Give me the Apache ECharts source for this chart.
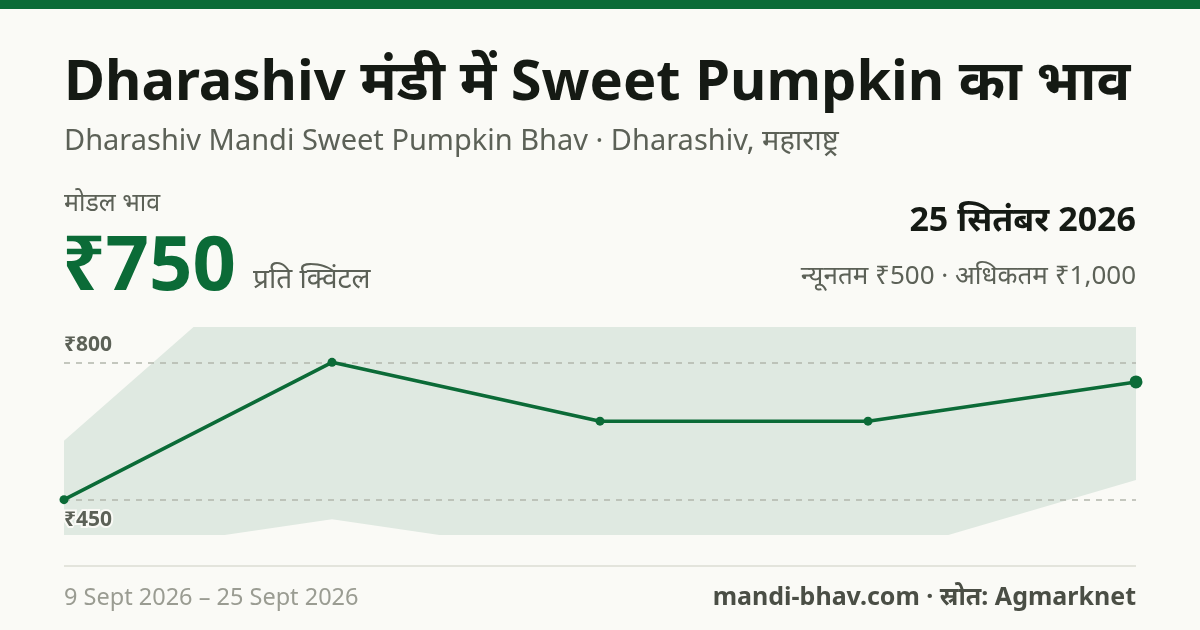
<!DOCTYPE html>
<html>
<head>
<meta charset="utf-8">
<script src="https://cdn.jsdelivr.net/npm/echarts@6/dist/echarts.min.js"></script>
<style>
  html, body { margin: 0; padding: 0; background: #fafaf6; }
  #chart { width: 1200px; height: 630px; }
</style>
</head>
<body>
<div id="chart"></div>
<script>
// data
const dates = ['9 Sept', '13 Sept', '17 Sept', '21 Sept', '25 Sept'];
const modalPrice = [450, 800, 650, 650, 750];
const minPrice = [300, 400, 300, 300, 500];
const maxPrice = [600, 1200, 1000, 1000, 1000];
const refLines = [800, 450];

const green = '#0b6b37';
const grey = '#5c6157';
const font = '"Noto Sans", "Noto Sans Devanagari", sans-serif';

const chart = echarts.init(document.getElementById('chart'));

// y range padded by a quarter of the modal range
const lo = Math.min(...modalPrice), hi = Math.max(...modalPrice);
const pad = (hi - lo) * 0.25;

const modalData = modalPrice.map((v, i) => ({
  value: v,
  symbolSize: i === modalPrice.length - 1 ? 13 : 9
}));

chart.setOption({
  backgroundColor: '#fafaf6',
  animation: false,
  grid: { left: 64, right: 64, top: 328, bottom: 96 },
  xAxis: {
    type: 'category', data: dates, boundaryGap: false, show: false
  },
  yAxis: {
    type: 'value', min: lo - pad, max: hi + pad, show: false, splitLine: { show: false }
  },
  series: [
    {
      name: 'min', type: 'line', stack: 'band', data: minPrice,
      symbol: 'none', lineStyle: { opacity: 0 }, silent: true
    },
    {
      name: 'range', type: 'line', stack: 'band',
      data: maxPrice.map((v, i) => v - minPrice[i]),
      symbol: 'none', lineStyle: { opacity: 0 },
      areaStyle: { color: '#dfe9e1', opacity: 1 }, silent: true
    },
    {
      name: 'modal', type: 'line', data: modalData,
      symbol: 'circle', itemStyle: { color: green },
      lineStyle: { color: green, width: 3.5 },
      z: 5,
      markLine: {
        silent: true, symbol: 'none',
        lineStyle: { color: '#b3b6ac', type: [6, 6], width: 1.5 },
        data: refLines.map((v, i) => ({
          yAxis: v,
          label: {
            show: true,
            position: i === 0 ? 'insideStartTop' : 'insideStartBottom',
            distance: [0, i === 0 ? 7 : 10],
            formatter: '₹' + v,
            color: grey, fontFamily: font, fontWeight: 'bold', fontSize: 21,
            textBorderColor: '#fafaf6', textBorderWidth: i === 0 ? 0 : 4
          }
        }))
      }
    }
  ],
  graphic: [
    { type: 'rect', shape: { x: 0, y: 0, width: 1200, height: 9 }, style: { fill: green } },
    { type: 'text', x: 64, y: 84, style: { text: 'Dharashiv मंडी में Sweet Pumpkin का भाव', font: 'bold 56px ' + font, fill: '#151a14', verticalAlign: 'middle' } },
    { type: 'text', x: 64, y: 142, style: { text: 'Dharashiv Mandi Sweet Pumpkin Bhav · Dharashiv, महाराष्ट्र', font: '29px ' + font, fill: grey, verticalAlign: 'middle' } },
    { type: 'text', x: 64, y: 204, style: { text: 'मोडल भाव', font: '25px ' + font, fill: grey, verticalAlign: 'middle' } },
    { type: 'text', x: 62, y: 268, style: { text: '₹750', font: 'bold 76px ' + font, fill: green, verticalAlign: 'middle' } },
    { type: 'text', x: 253, y: 280, style: { text: 'प्रति क्विंटल', font: '28px ' + font, fill: grey, verticalAlign: 'middle' } },
    { type: 'text', x: 1136, y: 221, style: { text: '25 सितंबर 2026', font: 'bold 34px ' + font, fill: '#151a14', align: 'right', verticalAlign: 'middle' } },
    { type: 'text', x: 1136, y: 277, style: { text: 'न्यूनतम ₹500 · अधिकतम ₹1,000', font: '26px ' + font, fill: grey, align: 'right', verticalAlign: 'middle' } },
    { type: 'line', shape: { x1: 64, y1: 566, x2: 1136, y2: 566 }, style: { stroke: '#e3e4dc', lineWidth: 2 } },
    { type: 'text', x: 64, y: 598, style: { text: '9 Sept 2026 – 25 Sept 2026', font: '23.5px ' + font, fill: '#9a9c92', verticalAlign: 'middle' } },
    { type: 'text', x: 1136, y: 598, style: { text: 'mandi-bhav.com · स्रोत: Agmarknet', font: 'bold 25px ' + font, fill: '#4a4e45', align: 'right', verticalAlign: 'middle' } }
  ]
});
</script>
</body>
</html>
